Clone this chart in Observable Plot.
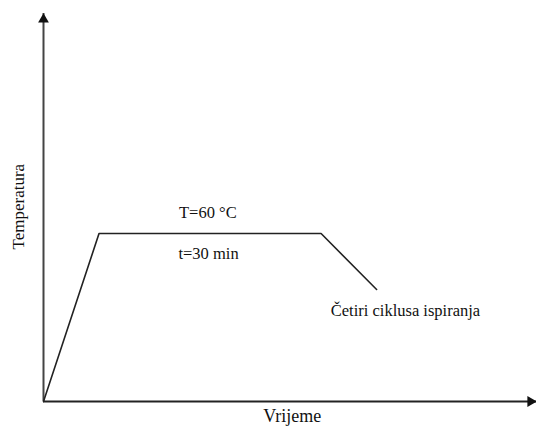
<!DOCTYPE html>
<html>
<head>
<meta charset="utf-8">
<script src="https://cdn.jsdelivr.net/npm/d3@7"></script>
<script src="https://cdn.jsdelivr.net/npm/@observablehq/plot@0.6"></script>
<style>
  html, body { margin: 0; padding: 0; background: #fff; }
  #chart svg { display: block; }
  #chart svg text { font-family: "Liberation Serif", "Times New Roman", serif !important; }
</style>
</head>
<body>
<div id="chart"></div>
<script>
// Temperature profile (time in minutes, temperature in °C)
const times = [0, 7.5, 37.5, 45];
const temps = [0, 60, 60, 40];

// Axis extents (arrow tips)
const xAxisEnd = 66.6;
const yAxisEnd = 138.6;

// Annotations
const noteLabels = ["T=60 °C", "t=30 min", "Četiri ciklusa ispiranja"];
const noteX = [22.2, 22.3, 48.9];
const noteY = [65.4, 51, 30.7];

const xLabel = "Vrijeme";
const yLabel = "Temperatura";
const xLabelPos = 33.6;
const yLabelPos = 69.6;

const profile = times.map((t, i) => ({t, T: temps[i]}));
const notes = noteLabels.map((s, i) => ({s, x: noteX[i], y: noteY[i]}));

const font = "Liberation Serif";

const chart = Plot.plot({
  width: 536,
  height: 427,
  marginLeft: 43,
  marginRight: 0,
  marginTop: 13,
  marginBottom: 26,
  x: {domain: [0, xAxisEnd], axis: null},
  y: {domain: [0, yAxisEnd], axis: null},
  style: {fontFamily: font, background: "#fff", overflow: "visible"},
  marks: [
    Plot.ruleY([0], {x1: 0, x2: xAxisEnd, stroke: "#222", strokeWidth: 2}),
    Plot.ruleX([0], {y1: 0, y2: yAxisEnd, stroke: "#444", strokeWidth: 2}),
    Plot.dot([{x: xAxisEnd, y: 0}], {x: "x", y: "y", symbol: "triangle", r: 4, rotate: 90, dx: -6, fill: "#111", stroke: "none"}),
    Plot.dot([{x: 0, y: yAxisEnd}], {x: "x", y: "y", symbol: "triangle", r: 4, dy: 6, fill: "#111", stroke: "none"}),
    Plot.line(profile, {x: "t", y: "T", stroke: "#222", strokeWidth: 1.6}),
    Plot.text(notes, {x: "x", y: "y", text: "s", textAnchor: "middle", lineAnchor: "bottom", fontSize: 16.5, fontFamily: font, fill: "#111"}),
    Plot.text([xLabel], {x: () => xLabelPos, frameAnchor: "bottom", dy: 20, lineAnchor: "bottom", textAnchor: "middle", fontSize: 18, fontFamily: font, fill: "#111"}),
    Plot.text([yLabel], {y: () => yLabelPos, frameAnchor: "left", dx: -24.5, rotate: -90, lineAnchor: "middle", textAnchor: "middle", fontSize: 17, fontFamily: font, fill: "#111"})
  ]
});
document.getElementById("chart").appendChild(chart);
</script>
</body>
</html>
